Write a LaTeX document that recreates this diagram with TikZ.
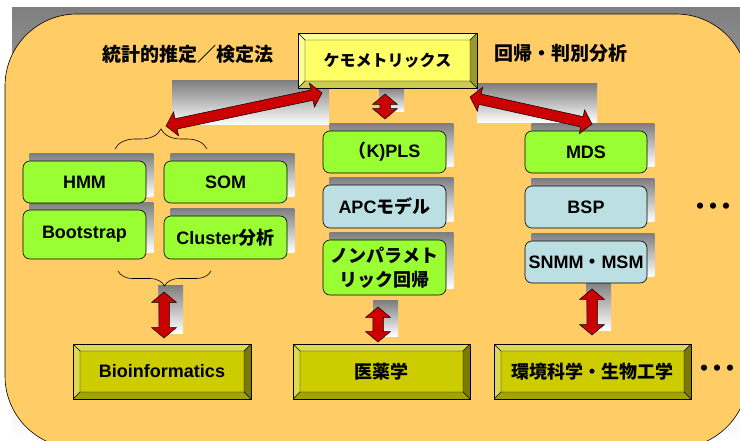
\documentclass[tikz,border=0pt]{standalone}
\usepackage{fontspec}
\setmainfont{Liberation Sans}
\newfontfamily\jp{Noto Sans CJK JP}
\usetikzlibrary{calc,shapes.arrows,decorations.pathreplacing}
\pgfdeclarelayer{frame}
\pgfdeclarelayer{shadow}
\pgfsetlayers{frame,shadow,main}
\definecolor{bgorange}{HTML}{FFCC66}
\definecolor{shade}{HTML}{808080}
\definecolor{boxgreen}{HTML}{99FF33}
\definecolor{boxblue}{HTML}{BBDFE3}
\definecolor{arrred}{HTML}{CC0000}
\definecolor{chface}{HTML}{FFFF66}
\definecolor{chlight}{HTML}{FFFF99}
\definecolor{chdark}{HTML}{999933}
\definecolor{chmid}{HTML}{CCCC52}
\definecolor{olface}{HTML}{CCCC00}
\definecolor{ollight}{HTML}{DBDB4D}
\definecolor{oldark}{HTML}{7A7A00}
\definecolor{olmid}{HTML}{A3A300}
\begin{document}
\begin{tikzpicture}[x=1pt,y=-1pt,
  txt/.style={font=\bfseries\fontsize{18}{21}\selectfont},
  rbox/.style={txt, draw=black, line width=0.6pt, rounded corners=7pt,
    minimum width=123pt, minimum height=42pt, inner sep=0pt, align=center},
  greenbox/.style={rbox, fill=boxgreen},
  bluebox/.style={rbox, fill=boxblue},
  bevelbox/.style n args={4}{txt, draw=black, line width=0.7pt, fill=#1,
    minimum height=55pt, inner sep=0pt, path picture={
      \path (path picture bounding box.north west) coordinate (bw)
            (path picture bounding box.south east) coordinate (be);
      \fill[#2] (bw) -- (bw -| be) -- ($(bw -| be)+(-7pt,-7pt)$) -- ($(bw)+(7pt,-7pt)$)
        -- ($(bw |- be)+(7pt,7pt)$) -- (bw |- be) -- cycle;
      \fill[#3] (bw -| be) -- (be) -- ($(be)+(-7pt,7pt)$) -- ($(bw -| be)+(-7pt,-7pt)$) -- cycle;
      \fill[#4] (bw |- be) -- (be) -- ($(be)+(-7pt,7pt)$) -- ($(bw |- be)+(7pt,7pt)$) -- cycle;
      \draw[line width=0.4pt] ($(bw)+(7pt,-7pt)$) rectangle ($(be)+(-7pt,7pt)$)
        (bw) -- ++(7pt,-7pt) (be) -- ++(-7pt,7pt)
        (bw -| be) -- ++(-7pt,-7pt) (bw |- be) -- ++(7pt,7pt);}},
  dblarrow/.style={double arrow, draw=black, line width=0.5pt, fill=arrred,
    inner xsep=0pt, inner ysep=5pt, double arrow head extend=7pt,
    double arrow tip angle=100},
  curly/.style={draw, decorate, decoration={brace, amplitude=#1}, line width=0.6pt}]

\useasboundingbox (0,0) rectangle (740,441);

\begin{pgfonlayer}{frame}
  \fill[shade] (12,8) rectangle (740,441);
  \draw[fill=bgorange, line width=0.6pt, rounded corners=72pt] (5,14) rectangle (748,448);
\end{pgfonlayer}

% headings
\node[txt] (stat) at (188,54) {\jp\fontsize{19}{21}\selectfont 統計的推定／検定法};
\node[txt] (regr) at (561,53) {\jp\fontsize{19}{21}\selectfont 回帰・判別分析};
\node[bevelbox={chface}{chlight}{chdark}{chmid}, minimum width=179pt] (chemo) at (387.5,60.5)
  {\jp\fontsize{16}{18}\selectfont ケモメトリックス};

% left group
\node[greenbox] (hmm) at (84.5,182) {HMM};
\node[greenbox] (som) at (225.5,182) {SOM};
\node[greenbox, minimum height=49pt] (boot) at (84.5,234.5) {Bootstrap};
\node[greenbox, minimum height=43pt] (clus) at (225.5,237.5) {Cluster{\jp 分析}};

% middle column
\node[greenbox] (kpls) at (384.5,152) {{\jp （}K)PLS};
\node[bluebox, minimum height=43pt] (apc) at (384.5,206.5) {APC{\jp モデル}};
\node[greenbox, minimum height=55pt, font=\bfseries\fontsize{18}{24}\selectfont] (npr) at (384.5,267.5)
  {\jp ノンパラメト\\\jp リック回帰};

% right column
\node[greenbox, minimum width=122pt] (mds) at (586,152) {MDS};
\node[bluebox, minimum width=122pt] (bsp) at (586,207) {BSP};
\node[bluebox, minimum width=122pt] (snmm) at (586,262) {SNMM{\jp ・}MSM};
\node[txt] (dots1) at (713,209) {\jp\fontsize{22}{22}\selectfont ・\kern-9pt・\kern-9pt・};

% fields
\node[bevelbox={olface}{ollight}{oldark}{olmid}, minimum width=178pt] (bio) at (162,371.5) {Bioinformatics};
\node[bevelbox={olface}{ollight}{oldark}{olmid}, minimum width=177pt] (med) at (381.5,371.5) {\jp 医薬学};
\node[bevelbox={olface}{ollight}{oldark}{olmid}, minimum width=197pt] (env) at (592.5,371.5) {\jp 環境科学・生物工学};
\node[txt] (dots2) at (717,371) {\jp\fontsize{22}{22}\selectfont ・\kern-9pt・\kern-9pt・};

\begin{pgfonlayer}{shadow}
  \foreach \n in {hmm,som,boot,clus,kpls,apc,npr,mds,bsp,snmm}
    \fill[shade] ($(\n.south west)+(7pt,7pt)$) rectangle ($(\n.north east)+(7pt,7pt)$);
  \fill[shade] (172,81) rectangle (329,125);
  \fill[shade] (477,84) rectangle (597,123);
  \fill[shade] (379,87) rectangle (404,112);
  \fill[shade] (158,286) rectangle (183,333);
  \fill[shade] (373,301) rectangle (398,336);
  \fill[shade] (586,282) rectangle (611,330);
\end{pgfonlayer}

% braces
\draw[curly=20pt] (115,149) -- (207,149);
\draw[curly=15pt] (211,271) -- (118,271);

% arrows
\coordinate (a1) at (166,126);
\coordinate (a2) at (322,93);
\coordinate (b1) at (470,97);
\coordinate (b2) at (592,124);
\coordinate (c1) at (385,94);
\coordinate (c2) at (385,119);
\coordinate (d1) at (164,292);
\coordinate (d2) at (164,338);
\coordinate (e1) at (378,307);
\coordinate (e2) at (378,342);
\coordinate (f1) at (592,289);
\coordinate (f2) at (592,335);
\foreach \s/\t in {a1/a2,b1/b2,c1/c2,d1/d2,e1/e2,f1/f2}
  \path let \p1=($(\t)-(\s)$), \n1={veclen(\x1,\y1)} in
    (\s) -- (\t) node[midway, sloped, dblarrow, minimum height=\n1] {};
\end{tikzpicture}
\end{document}
